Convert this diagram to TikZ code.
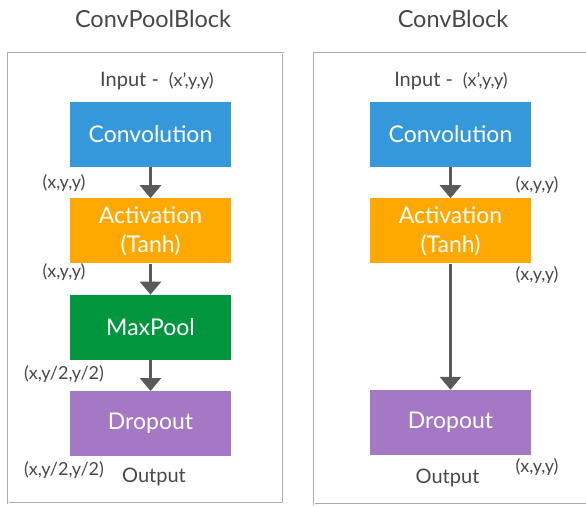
\documentclass[tikz,border=0pt]{standalone}
\usepackage{fontspec}
\setmainfont{Lato}
\usetikzlibrary{arrows.meta,positioning}

\definecolor{convblue}{RGB}{52,152,219}
\definecolor{actorange}{RGB}{255,168,0}
\definecolor{poolgreen}{RGB}{0,150,62}
\definecolor{droppurple}{RGB}{164,120,196}
\definecolor{arrowgray}{RGB}{90,90,90}
\definecolor{labelgray}{RGB}{72,72,72}
\newcommand{\dimfont}{\fontsize{18}{20}\selectfont}

\begin{document}
\begin{tikzpicture}[x=1pt, y=-1pt, node distance=31pt]
            \tikzstyle{block} = [rectangle, fill=convblue, text=white, minimum width=161pt, minimum height=65pt, inner sep=0pt, align=center, font=\fontsize{23}{29}\selectfont]
            \tikzstyle{arrow} = [line width=3pt, arrowgray, -{Triangle[width=21pt,length=13pt]}]
            \tikzstyle{frame} = [draw=gray!65, double=white, double distance=1pt, line width=0.8pt]
            \tikzstyle{dims} = [text=labelgray, font=\dimfont, inner sep=0pt]
            \tikzstyle{caption} = [text=labelgray, font=\fontsize{20}{22}\selectfont, inner sep=0pt]
            \tikzstyle{title} = [text=labelgray, font=\fontsize{23.5}{26}\selectfont, inner sep=0pt]

            \clip (0,0) rectangle (586,506);

            % ConvPoolBlock
            \node [title] (poolname) at (153,19) {ConvPoolBlock};
            \draw [frame] (8,53) rectangle (283,503);
            \node [caption] (input1) at (157,81) {Input -\enspace{\dimfont (x',y,y)}};
            \node [block] (conv1) at (150.5,134.5) {Convolution};
            \node [block, fill=actorange, below=of conv1] (act1) {Activation\\(Tanh)};
            \node [block, fill=poolgreen, below=of act1] (pool1) {MaxPool};
            \node [block, fill=droppurple, below=of pool1] (drop1) {Dropout};
            \node [caption] (output1) at (154,477) {Output};

            \node [dims] (dim1a) at (64,183) {(x,y,y)};
            \node [dims] (dim1b) at (64,272) {(x,y,y)};
            \node [dims] (dim1c) at (64,374) {(x,y/2,y/2)};
            \node [dims] (dim1d) at (64,470) {(x,y/2,y/2)};

            \draw [arrow] (conv1) -- (act1);
            \draw [arrow] (act1) -- (pool1);
            \draw [arrow] (pool1) -- (drop1);

            % ConvBlock
            \node [title] (convname) at (453,19) {ConvBlock};
            \draw [frame] (314,53) rectangle (600,504);
            \node [caption] (input2) at (451,81) {Input -\enspace{\dimfont (x',y,y)}};
            \node [block] (conv2) at (450.5,134.5) {Convolution};
            \node [block, fill=actorange, below=of conv2] (act2) {Activation\\(Tanh)};
            \node [block, fill=droppurple] (drop2) at (450.5,422.5) {Dropout};
            \node [caption] (output2) at (447.5,478) {Output};

            \node [dims] (dim2a) at (537,185) {(x,y,y)};
            \node [dims] (dim2b) at (537,275) {(x,y,y)};
            \node [dims] (dim2c) at (537,467) {(x,y,y)};

            \draw [arrow] (conv2) -- (act2);
            \draw [arrow] (act2) -- (drop2);
        \end{tikzpicture}
\end{document}
